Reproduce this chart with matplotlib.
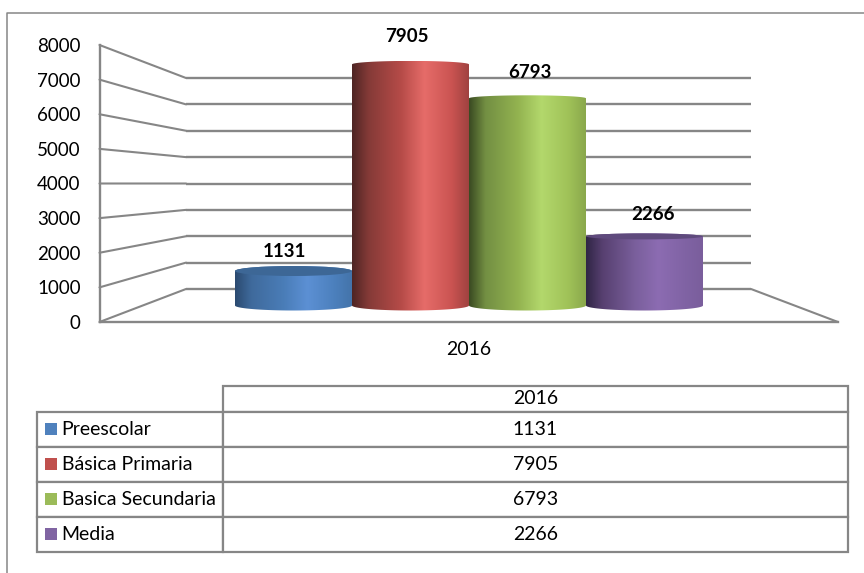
import numpy as np
from matplotlib import pyplot as plt, rcParams
from matplotlib.colors import LinearSegmentedColormap
from matplotlib.patches import ConnectionPatch, Ellipse, PathPatch
from matplotlib.path import Path
from matplotlib.table import Table

rcParams['font.family'] = ['Lato', 'DejaVu Sans']

# datos
categorias = ['Preescolar', 'Básica Primaria', 'Basica Secundaria', 'Media']
valores = [1131, 7905, 6793, 2266]
anio = '2016'
ticks_y = [0, 1000, 2000, 3000, 4000, 5000, 6000, 7000, 8000]

# estilos
W, H = 864, 573
GRIS = '#868686'
colores = ['#4f81bd', '#c0504d', '#9bbb59', '#8064a2']
tapas = ['#3d6796', None, None, '#5f4a7d']
degradados = [
    ['#2b4a70', '#3f6a9c', '#4a7db8', '#5c90d4', '#4c80bd', '#4474aa'],
    ['#4e2524', '#843a37', '#b64b48', '#e66c69', '#cb5452', '#a04240'],
    ['#3a4a22', '#738f43', '#93b350', '#b3d86c', '#a0c258', '#8aa84c'],
    ['#302545', '#574070', '#7a5f9c', '#8c6cb2', '#8063a4', '#7a5e9c'],
]
paradas = [0, 0.14, 0.42, 0.62, 0.85, 1]
etiqueta_dx = [-9.5, -3.5, 2, 8]     # px respecto al centro de la barra
etiqueta_dy = [20, 28, 26, 22]       # px sobre la tapa
RIM_BASE = 5  # semieje vertical de la elipse inferior, px
rim_tapa = [5, 3.5, 3, 3]  # semieje de la tapa de cada barra, px


def crear_ejes(fig, x0, x1, y_cero, y_tope):
    # ejes cuyo rango vertical 0..8000 cae entre y_cero e y_tope (px de la imagen)
    ax = fig.add_axes([x0 / W, 1 - y_cero / H, (x1 - x0) / W, (y_cero - y_tope) / H])
    ax.patch.set_visible(False)
    ax.set_ylim(0, 8000)
    return ax


fig = plt.figure(figsize=(W / 100, H / 100), dpi=100)

# marco del grafico
fig.add_artist(plt.Line2D([7 / W, 7 / W, 1], [0, 1 - 12.5 / H, 1 - 12.5 / H], color=GRIS, lw=1.1))

# pared del fondo
ax_fondo = crear_ejes(fig, 186, 751, 289, 78)
ax_fondo.set_xlim(0, 1)
ax_fondo.axis('off')
ax_fondo.hlines(ticks_y, 0, 1, color=GRIS, lw=1.7, clip_on=False)

# plano frontal con los ejes
ax_frente = crear_ejes(fig, 99.5, 838, 322, 45)
ax_frente.set_xlim(0, 1)
for lado in ['top', 'right']:
    ax_frente.spines[lado].set_visible(False)
for lado in ['left', 'bottom']:
    ax_frente.spines[lado].set_color(GRIS)
    ax_frente.spines[lado].set_linewidth(1.7)
ax_frente.set_yticks(ticks_y)
ax_frente.set_xticks([0.5])
ax_frente.set_xticklabels([anio])
ax_frente.tick_params(axis='y', length=0, pad=13.5, labelsize=13.5)
ax_frente.tick_params(axis='x', length=0, pad=14, labelsize=14)

# lineas de la pared izquierda y del piso
for v in ticks_y:
    fig.add_artist(ConnectionPatch((0, v), (0, v), ax_frente.transData, ax_fondo.transData, color=GRIS, lw=1.5))
fig.add_artist(ConnectionPatch((1, 0), (1, 0), ax_frente.transData, ax_fondo.transData, color=GRIS, lw=1.5))

# cilindros en el plano medio
margen = 400
esc = 244 / 8000
ax_barras = fig.add_axes([(235 - 12) / W, 1 - (305.5 + margen * esc) / H, (468 + 24) / W, (244 + 2 * margen * esc) / H])
ax_barras.axis('off')
rim_b = RIM_BASE / esc
theta = np.linspace(0, np.pi, 40)

for i, v in enumerate(valores):
    rim_t = rim_tapa[i] / esc
    cmap = LinearSegmentedColormap.from_list('c%d' % i, list(zip(paradas, degradados[i])))
    gradiente = np.linspace(0, 1, 256).reshape(1, -1)
    im = ax_barras.imshow(gradiente, cmap=cmap, aspect='auto', zorder=2 + i,
                          extent=(i - 0.5, i + 0.5, -margen, v + rim_t), interpolation='bilinear')
    xs = np.r_[i - 0.5 * np.cos(theta), i + 0.5 * np.cos(theta)]
    ys = np.r_[-rim_b * np.sin(theta), v + rim_t * np.sin(theta)]
    contorno = PathPatch(Path(np.c_[xs, ys]), transform=ax_barras.transData)
    im.set_clip_path(contorno)
    if tapas[i]:
        ax_barras.add_patch(Ellipse((i, v), 1, 2 * rim_t, color=tapas[i], lw=0, zorder=2 + i))
    ax_barras.annotate(str(v), (i, v), xytext=(etiqueta_dx[i] * 0.72, etiqueta_dy[i] * 0.72),
                       textcoords='offset points', ha='center', va='center',
                       fontsize=13.5, fontweight='bold', zorder=20, annotation_clip=False)
ax_barras.set_xlim(-0.5 - 12 / 117, 3.5 + 12 / 117)
ax_barras.set_ylim(-margen, 8000 + margen)

# tabla de datos
x_tabla, ancho_tabla = 37, 811
y_tabla, alturas = 386, [26, 35, 35, 35, 35]
alto_tabla = sum(alturas)
ax_tabla = fig.add_axes([x_tabla / W, 1 - (y_tabla + alto_tabla) / H, ancho_tabla / W, alto_tabla / H])
ax_tabla.axis('off')
ax_tabla.set_xlim(0, ancho_tabla)
ax_tabla.set_ylim(alto_tabla, 0)

tabla = Table(ax_tabla, bbox=[0, 0, 1, 1])
col0, col1 = 186 / ancho_tabla, 625 / ancho_tabla
filas = [('', anio)] + list(zip(categorias, map(str, valores)))
for f, (nombre, valor) in enumerate(filas):
    alto = alturas[f] / alto_tabla
    c0 = tabla.add_cell(f, 0, col0, alto, text=nombre, loc='left', edgecolor=GRIS)
    c1 = tabla.add_cell(f, 1, col1, alto, text=valor, loc='center', edgecolor=GRIS)
    c0.PAD = 24.5 / 186
    c0.set_linewidth(1.6)
    c1.set_linewidth(1.6)
    if f == 0:
        c0.visible_edges = ''
tabla.auto_set_font_size(False)
tabla.set_fontsize(14)
ax_tabla.add_table(tabla)

# cuadritos de la leyenda
centros = np.cumsum(alturas)[:-1] + np.array(alturas[1:]) / 2
for i, yc in enumerate(centros):
    ax_tabla.plot(14, yc - 1, marker='s', ms=8.6, mew=0, color=colores[i], clip_on=False, zorder=5)

plt.savefig('out.png', dpi=100)
